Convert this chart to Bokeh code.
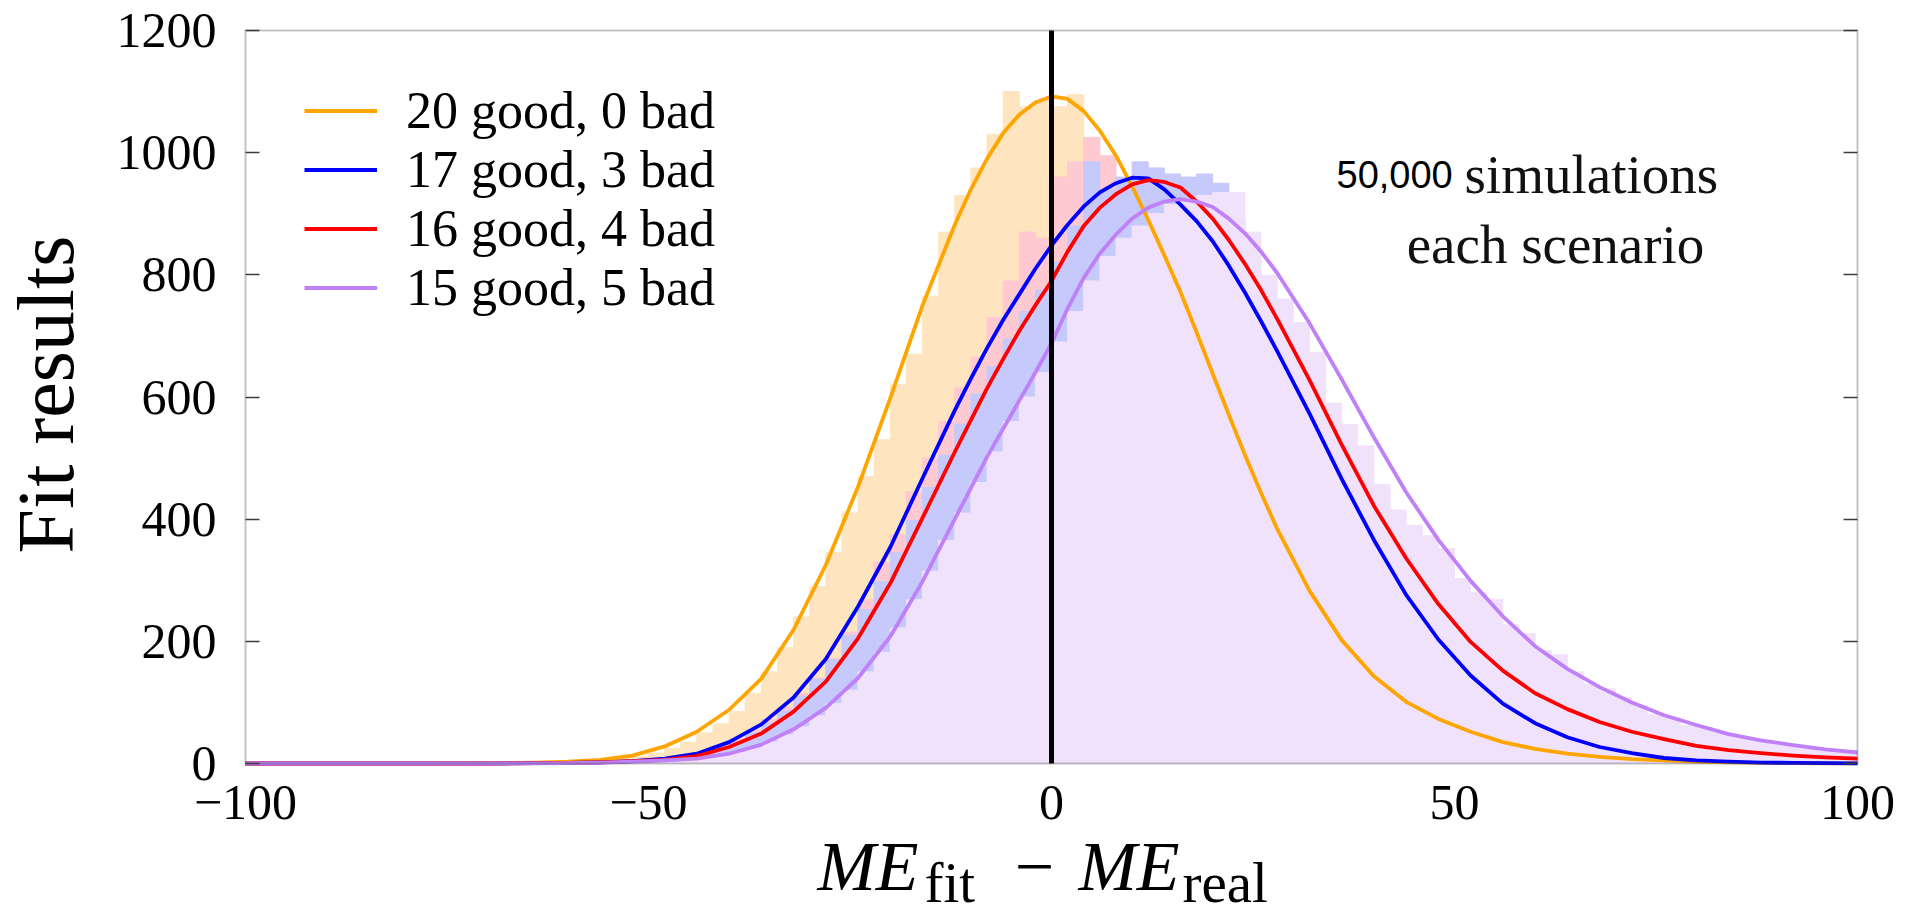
import numpy as np
from bokeh.plotting import figure
from bokeh.models import (Range1d, FixedTicker, CustomJSTickFormatter, LinearAxis,
                          BoxAnnotation, Label, Legend, LegendItem)
from bokeh.embed import file_html
from bokeh.resources import INLINE

# ---------------- data ----------------
series_labels = ["20 good, 0 bad", "17 good, 3 bad", "16 good, 4 bad", "15 good, 5 bad"]

# fitted curves, sampled along x
fit_x = [-100, -90, -80, -70, -64,
         -60, -56, -52, -48, -44, -40, -36, -32, -28, -24, -20, -16,
         -12, -10, -8, -6, -4, -2, 0, 2, 4, 6, 8, 10, 12, 14, 16, 18, 20, 22, 24, 26, 28,
         32, 36, 40, 44, 48, 52, 56, 60, 64, 68, 72, 76, 80, 84, 88, 92, 96, 100]
fit_20_0 = [0, 0, 0, 0.5, 1.5,
            3, 6, 13, 28, 52, 88, 139, 219, 325, 453, 598, 750,
            882, 940, 990, 1032, 1062, 1082, 1092, 1088, 1068, 1036, 995, 945, 890, 832, 772, 706, 638, 571, 505, 443, 384,
            283, 202, 143, 101, 73, 52, 35, 24, 16, 11, 7, 5, 3, 2, 1, 0.5, 0.3, 0.2]
fit_17_3 = [0, 0, 0, 0, 0.5,
            1, 2, 4, 8, 16, 35, 64, 108, 171, 257, 354, 467,
            578, 630, 680, 726, 768, 810, 848, 882, 912, 935, 950, 959, 958, 940, 915, 888, 855, 815, 771, 724, 675,
            573, 466, 366, 276, 203, 144, 98, 66, 43, 27, 17, 9, 5, 3, 1.5, 1, 0.5, 0.3]
fit_16_4 = [0, 0, 0, 0, 0.5,
            1, 2, 4, 6, 12, 27, 49, 85, 134, 205, 295, 402,
            510, 562, 614, 662, 708, 750, 790, 838, 880, 910, 932, 948, 955, 952, 943, 920, 892, 857, 818, 775, 728,
            628, 522, 422, 336, 261, 199, 152, 115, 89, 68, 52, 40, 29, 22, 17, 13, 10, 8]
fit_15_5 = [0, 0, 0, 0, 0.3,
            0.6, 1.5, 3, 5, 8, 16, 31, 56, 91, 140, 208, 298,
            400, 451, 502, 548, 594, 640, 688, 745, 795, 835, 866, 892, 910, 920, 924, 920, 911, 892, 868, 838, 803,
            721, 629, 534, 444, 366, 299, 241, 192, 155, 125, 100, 79, 63, 48, 38, 30, 23, 18]

# histograms: bin edges (bin width 2)
bin_left = [-60, -58, -56, -54, -52, -50, -48, -46, -44, -42, -40, -38, -36, -34, -32, -30,
            -28, -26, -24, -22, -20, -18, -16, -14, -12, -10, -8, -6, -4, -2,
            0, 2, 4, 6, 8, 10, 12, 14, 16, 18, 20, 22, 24, 26, 28, 30, 32, 34, 36, 38,
            40, 42, 44, 46, 48, 50, 52, 54, 56, 58, 60, 62, 64, 66, 68, 70, 72, 74, 76, 78,
            80, 82, 84, 86, 88, 90, 92, 94, 96, 98]
bin_right = [-58, -56, -54, -52, -50, -48, -46, -44, -42, -40, -38, -36, -34, -32, -30, -28,
             -26, -24, -22, -20, -18, -16, -14, -12, -10, -8, -6, -4, -2, 0,
             2, 4, 6, 8, 10, 12, 14, 16, 18, 20, 22, 24, 26, 28, 30, 32, 34, 36, 38, 40,
             42, 44, 46, 48, 50, 52, 54, 56, 58, 60, 62, 64, 66, 68, 70, 72, 74, 76, 78, 80,
             82, 84, 86, 88, 90, 92, 94, 96, 98, 100]
hist_20_0 = [2, 3, 5, 8, 12, 17, 25, 35, 50, 65, 85, 115, 150, 190, 240, 290,
             345, 410, 470, 530, 620, 670, 765, 870, 930, 975, 1030, 1100, 1075, 1085,
             1075, 1095, 990, 940, 880, 820, 760, 700, 640, 580, 520, 460, 405, 355, 308, 265, 228, 195, 166, 140,
             118, 100, 85, 72, 61, 51, 43, 36, 30, 25, 21, 17, 14, 12, 10, 8, 6, 5, 4, 3,
             2, 2, 1, 1, 1, 1, 0, 0, 0, 0]
hist_17_3 = [0, 1, 1, 2, 3, 5, 7, 11, 16, 25, 36, 50, 66, 86, 110, 138,
             170, 210, 252, 298, 345, 398, 452, 505, 556, 605, 650, 695, 740, 775,
             820, 880, 985, 940, 960, 985, 975, 965, 960, 965, 950, 890, 800, 720, 670, 630, 590, 540, 480, 420,
             365, 315, 270, 230, 195, 163, 136, 112, 92, 75, 61, 50, 40, 32, 25, 19, 15, 11, 8, 6,
             4, 3, 2, 2, 1, 1, 1, 0, 0, 0]
hist_16_4 = [0, 1, 1, 2, 3, 5, 8, 13, 19, 28, 40, 55, 72, 92, 115, 140,
             172, 215, 268, 330, 375, 445, 500, 560, 615, 665, 730, 790, 870, 860,
             960, 985, 1025, 995, 935, 925, 950, 905, 880, 860, 845, 815, 780, 740, 690, 640, 590, 540, 490, 440,
             395, 352, 312, 276, 243, 212, 186, 163, 143, 124, 108, 95, 84, 73, 64, 56, 49, 43, 37, 31,
             27, 23, 21, 18, 16, 14, 12, 11, 9, 8]
hist_15_5 = [0, 0, 1, 1, 2, 3, 4, 6, 9, 13, 18, 25, 35, 47, 60, 78,
             98, 120, 150, 182, 222, 268, 315, 365, 410, 460, 510, 560, 600, 640,
             690, 740, 790, 830, 860, 880, 900, 915, 925, 930, 935, 935, 870, 799, 760, 722, 673, 590, 555, 520,
             457, 415, 390, 373, 352, 303, 280, 269, 227, 213, 185, 178, 150, 130, 122, 108, 95, 80, 75, 62,
             59, 50, 44, 40, 35, 30, 28, 24, 20, 18]

x_ticks = [-100, -50, 0, 50, 100]
y_ticks = [0, 200, 400, 600, 800, 1000, 1200]
zero_line_x = [0]

# ---------------- layout (pixels) ----------------
CW, CH = 1905, 920                               # canvas
FL, FR, FT, FB = 245, 1857, 30, 763              # where the data box sits
xs = (FR - FL) / (x_ticks[-1] - x_ticks[0])
ys = (FB - FT) / (y_ticks[-1] - y_ticks[0])
x_range = Range1d(x_ticks[0] - FL / xs, x_ticks[-1] + (CW - FR) / xs)
y_range = Range1d(y_ticks[0] - (CH - FB) / ys, y_ticks[-1] + FT / ys)

def up(py):  # pixel-from-top -> screen units (from bottom)
    return CH - py

# ---------------- styling ----------------
line_colors = ["#FFA500", "#0000FF", "#FF0000", "#BF80F8"]
fill_colors = {"20_0": "#FEE5C0", "16_4": "#FFC9D1", "17_3": "#C6C9FB", "15_5": "#F1E2FC"}
SERIF = "Liberation Serif"
FRAME = "#3c3c3c"

p = figure(width=CW, height=CH, output_backend="svg", toolbar_location=None,
           x_range=x_range, y_range=y_range,
           min_border_left=0, min_border_right=0, min_border_top=0, min_border_bottom=0)
p.grid.visible = False
p.background_fill_color = "white"
p.border_fill_color = "white"
p.outline_line_color = None

# histograms (drawn in order so the last one sits on top)
for key, vals in [("20_0", hist_20_0), ("16_4", hist_16_4), ("17_3", hist_17_3), ("15_5", hist_15_5)]:
    p.quad(left=bin_left, right=bin_right, bottom=0, top=vals,
           fill_color=fill_colors[key], line_color=fill_colors[key], line_width=1)

# fitted curves
renderers = []
for vals, col in zip([fit_20_0, fit_17_3, fit_16_4, fit_15_5], line_colors):
    r = p.line(fit_x, vals, line_color=col, line_width=3.8, line_join="round")
    renderers.append(r)

# vertical line at zero, spanning the y axis range
p.segment(x0=zero_line_x, y0=[y_ticks[0]], x1=zero_line_x, y1=[y_ticks[-1]],
          line_color="black", line_width=5)

# data box
p.add_layout(BoxAnnotation(left=x_ticks[0], right=x_ticks[-1], bottom=y_ticks[0], top=y_ticks[-1],
                           fill_alpha=0, line_color=FRAME, line_width=2))

# axes placed on the data box edges
xa = p.xaxis[0]
xa.fixed_location = y_ticks[0]
xa.ticker = FixedTicker(ticks=x_ticks)
xa.formatter = CustomJSTickFormatter(code="return tick < 0 ? '\\u2212' + Math.abs(tick) : String(tick);")
xa.major_tick_in = 0
xa.major_tick_out = 0
xa.minor_tick_in = 0
xa.minor_tick_out = 0
xa.axis_line_color = None
xa.major_label_standoff = 22
xa.major_label_text_font = SERIF
xa.major_label_text_font_size = "50px"
xa.major_label_text_color = "black"

ya = p.yaxis[0]
ya.fixed_location = x_ticks[0]
ya.ticker = FixedTicker(ticks=y_ticks)
ya.major_tick_in = 14
ya.major_tick_out = 0
ya.minor_tick_in = 0
ya.minor_tick_out = 0
ya.major_tick_line_color = FRAME
ya.major_tick_line_width = 1.5
ya.axis_line_color = None
ya.major_label_standoff = 29
ya.major_label_text_font = SERIF
ya.major_label_text_font_size = "50px"
ya.major_label_text_color = "black"

ra = LinearAxis(fixed_location=x_ticks[-1], ticker=FixedTicker(ticks=y_ticks),
                formatter=CustomJSTickFormatter(code="return '';"),
                major_tick_in=14, major_tick_out=0, minor_tick_in=0, minor_tick_out=0,
                major_tick_line_color=FRAME, major_tick_line_width=1.5,
                axis_line_color=None, major_label_standoff=0)
p.add_layout(ra, "right")

# legend
legend = Legend(items=[LegendItem(label=lbl, renderers=[r]) for lbl, r in zip(series_labels, renderers)],
                location=(304, up(317)), margin=0, padding=0, spacing=0,
                glyph_width=73, glyph_height=59, label_height=59, label_standoff=29,
                label_text_font=SERIF, label_text_font_size="52px", label_text_color="black",
                border_line_color=None, background_fill_alpha=0)
p.add_layout(legend)

# axis titles (label anchors sit about 0.35 em above the drawn baseline)
p.add_layout(Label(x=45, y=up(394), x_units="screen", y_units="screen", text="Fit results",
                   angle=np.pi / 2, text_align="center", text_baseline="alphabetic",
                   text_font=SERIF, text_font_size="80px", text_color="black"))

xlabel_text = ["ME", "fit", "\u2212", "ME", "real"]
xlabel_px = [817, 924, 1034, 1078, 1182]
xlabel_py = [866, 882, 866, 866, 882]
xlabel_size = ["70px", "57px", "70px", "70px", "57px"]
xlabel_style = ["italic", "normal", "normal", "italic", "normal"]
xlabel_align = ["left", "left", "center", "left", "left"]
for t, px, py, fs, st, al in zip(xlabel_text, xlabel_px, xlabel_py, xlabel_size, xlabel_style, xlabel_align):
    p.add_layout(Label(x=px, y=up(py), x_units="screen", y_units="screen", text=t,
                       text_font=SERIF, text_font_size=fs, text_font_style=st,
                       text_align=al, text_baseline="alphabetic", text_color="black"))

# annotation
p.add_layout(Label(x=1336, y=up(174), x_units="screen", y_units="screen", text="50,000",
                   text_font="Liberation Sans", text_font_size="38px", text_color="black",
                   text_baseline="alphabetic"))
p.add_layout(Label(x=1464, y=up(174), x_units="screen", y_units="screen", text="simulations",
                   text_font=SERIF, text_font_size="55px", text_color="#111111",
                   text_baseline="alphabetic"))
p.add_layout(Label(x=1555, y=up(244), x_units="screen", y_units="screen", text="each scenario",
                   text_font=SERIF, text_font_size="55px", text_color="#111111",
                   text_align="center", text_baseline="alphabetic"))

open("out.html", "w").write(file_html(p, INLINE))
